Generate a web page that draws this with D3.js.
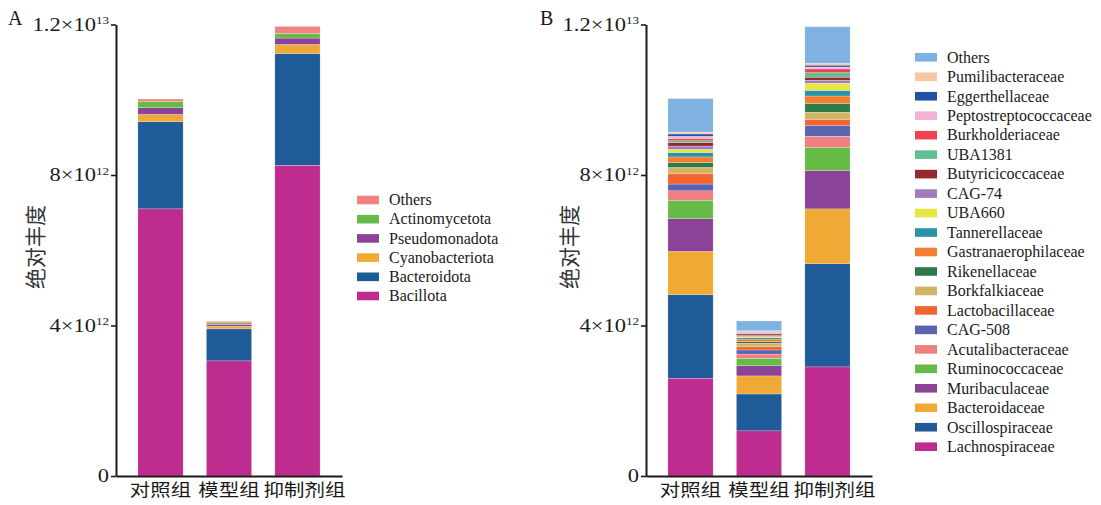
<!DOCTYPE html>
<html>
<head>
<meta charset="utf-8">
<script src="https://cdn.jsdelivr.net/npm/d3@7"></script>
<style>
  html, body { margin: 0; padding: 0; background: #fff; }
  svg { display: block; }
</style>
</head>
<body>
<svg id="chart" width="1101" height="505"></svg>
<script>
// Groups on the x axis
const groups = ["对照组", "模型组", "抑制剂组"];

// Phylum level (absolute abundance, ×10^12), stacked bottom → top
const phylumNames = ["Bacillota", "Bacteroidota", "Cyanobacteriota", "Pseudomonadota", "Actinomycetota", "Others"];
const phylumColors = ["#BE2C8F", "#1F5A99", "#F0A935", "#8B4397", "#66BB46", "#F38283"];
const phylumControl = [7.10, 2.32, 0.19, 0.18, 0.17, 0.06];
const phylumModel   = [3.06, 0.85, 0.07, 0.05, 0.04, 0.04];
const phylumInhib   = [8.26, 2.97, 0.24, 0.17, 0.12, 0.19];

// Family level (absolute abundance, ×10^12), stacked bottom → top
const familyNames = ["Lachnospiraceae", "Oscillospiraceae", "Bacteroidaceae", "Muribaculaceae", "Ruminococcaceae",
  "Acutalibacteraceae", "CAG-508", "Lactobacillaceae", "Borkfalkiaceae", "Rikenellaceae", "Gastranaerophilaceae",
  "Tannerellaceae", "UBA660", "CAG-74", "Butyricicoccaceae", "UBA1381", "Burkholderiaceae",
  "Peptostreptococcaceae", "Eggerthellaceae", "Pumilibacteraceae", "Others"];
const familyColors = ["#BE2C8F", "#1F5A99", "#F0A935", "#8B4397", "#66BB46",
  "#F07F82", "#5A64B0", "#F26430", "#D3B466", "#2E7A4A", "#F47D30",
  "#2A93A8", "#E7E743", "#A27DBC", "#98282D", "#5CC092", "#EE4450",
  "#F3B2D4", "#2352A3", "#F9C5A5", "#7FB2E0"];
const familyControl = [2.60, 2.22, 1.15, 0.87, 0.49, 0.25, 0.18, 0.27, 0.17, 0.13, 0.15, 0.12, 0.08, 0.09, 0.09, 0.05, 0.06, 0.06, 0.06, 0.05, 0.89];
const familyModel   = [1.20, 0.98, 0.48, 0.27, 0.20, 0.11, 0.11, 0.09, 0.09, 0.04, 0.07, 0.035, 0.03, 0.03, 0.04, 0.02, 0.02, 0.015, 0.015, 0.015, 0.26];
const familyInhib   = [2.90, 2.74, 1.46, 1.02, 0.61, 0.30, 0.29, 0.16, 0.19, 0.23, 0.20, 0.15, 0.19, 0.08, 0.08, 0.12, 0.10, 0.05, 0.05, 0.05, 0.97];

// Y axis ticks
const tickValues = [0, 4e12, 8e12, 1.2e13];
const tickMantissa = ["0", "4", "8", "1.2"];
const tickExponent = ["", "12", "12", "13"];

const yLabel = "绝对丰度";
const UNIT = 1e12;

const svg = d3.select("#chart");
const serif = "'Liberation Serif', 'Times New Roman', serif";
const cjk = "'Noto Sans CJK SC', sans-serif";

const y = d3.scaleLinear().domain([0, 1.2e13]).range([476, 24.5]);

function rows(names, seriesByGroup) {
  return groups.map((g, gi) => {
    const r = { group: g };
    names.forEach((n, i) => { r[n] = seriesByGroup[gi][i] * UNIT; });
    return r;
  });
}

function drawPanel(opt) {
  const x = d3.scaleBand().domain(groups)
    .range([opt.axisX, opt.axisX + 226])
    .paddingInner(0.34).paddingOuter(0.32);

  const g = svg.append("g");
  const color = d3.scaleOrdinal().domain(opt.names).range(opt.colors);
  const stacked = d3.stack().keys(opt.names)(rows(opt.names, opt.values));

  g.selectAll("g.layer").data(stacked).join("g")
    .attr("class", "layer")
    .attr("fill", d => color(d.key))
    .selectAll("rect").data(d => d).join("rect")
      .attr("x", d => x(d.data.group))
      .attr("width", x.bandwidth())
      .attr("y", d => y(d[1]))
      .attr("height", d => Math.max(0, y(d[0]) - y(d[1])))
      .attr("stroke", "#fff").attr("stroke-width", 0.4).attr("stroke-opacity", 0.6);

  // Y axis
  const yAxis = g.append("g")
    .attr("transform", `translate(${opt.axisX},0)`)
    .call(d3.axisLeft(y).tickValues(tickValues).tickSize(5).tickSizeOuter(0).tickPadding(6));
  yAxis.select(".domain").attr("stroke", "#1a1a1a").attr("stroke-width", 2);
  yAxis.selectAll(".tick line").attr("stroke", "#1a1a1a").attr("stroke-width", 1.6);
  const sx = 1.25;
  yAxis.selectAll(".tick text").each(function(d, i) {
    const t = d3.select(this);
    t.text(null)
      .attr("font-family", serif).attr("font-size", 18).attr("fill", "#1a1a1a")
      .attr("text-anchor", "end")
      .attr("x", -7 / sx).attr("dy", "0.33em")
      .attr("transform", `scale(${sx},1)`);
    if (tickExponent[i]) {
      t.append("tspan").text(tickMantissa[i] + "×10");
      t.append("tspan").text(tickExponent[i]).attr("font-size", 10.5).attr("dy", -6.5);
    } else {
      t.append("tspan").text(tickMantissa[i]);
    }
  });

  // X axis: labels widened slightly; longer labels nudged right to clear their neighbour
  const lx = 1.17;
  const xAxis = g.append("g")
    .attr("transform", `translate(0,${y(0)})`)
    .call(d3.axisBottom(x).tickSize(0).tickSizeOuter(0).tickPadding(0));
  xAxis.select(".domain").attr("stroke", "#1a1a1a").attr("stroke-width", 2);
  xAxis.selectAll(".tick text")
    .attr("font-family", cjk).attr("font-size", 17.5).attr("fill", "#1a1a1a")
    .attr("text-anchor", "middle")
    .attr("x", d => (d.length - 3) * 7 / lx)
    .attr("y", 20).attr("dy", 0)
    .attr("transform", `scale(${lx},1)`);

  // Y axis title
  g.append("text")
    .attr("transform", `translate(${opt.titleX},247) rotate(-90)`)
    .attr("text-anchor", "middle").attr("dominant-baseline", "central")
    .attr("font-family", cjk).attr("font-size", 21).attr("fill", "#333")
    .text(yLabel);

  // Panel letter
  g.append("text")
    .attr("x", opt.letterX).attr("y", 25)
    .attr("font-family", serif).attr("font-size", 20).attr("fill", "#1a1a1a")
    .text(opt.letter);

  // Legend (top entry is the last stacked series)
  const legendItems = opt.names.map((n, i) => ({ n, c: opt.colors[i] })).reverse();
  const lg = g.append("g");
  const item = lg.selectAll("g").data(legendItems).join("g")
    .attr("transform", (d, i) => `translate(${opt.legendX},${opt.legendY + i * opt.legendStep})`);
  item.append("rect").attr("x", 0).attr("y", -4.3).attr("width", 22).attr("height", 8.6)
    .attr("fill", d => d.c);
  item.append("text").attr("x", 32).attr("dy", "0.33em")
    .attr("font-family", serif).attr("font-size", 16).attr("fill", "#1a1a1a")
    .text(d => d.n);
}

drawPanel({
  axisX: 116, titleX: 34, letter: "A", letterX: 8,
  names: phylumNames, colors: phylumColors,
  values: [phylumControl, phylumModel, phylumInhib],
  legendX: 357, legendY: 200, legendStep: 19.2
});

drawPanel({
  axisX: 646, titleX: 568, letter: "B", letterX: 540,
  names: familyNames, colors: familyColors,
  values: [familyControl, familyModel, familyInhib],
  legendX: 915, legendY: 57.3, legendStep: 19.47
});
</script>
</body>
</html>
